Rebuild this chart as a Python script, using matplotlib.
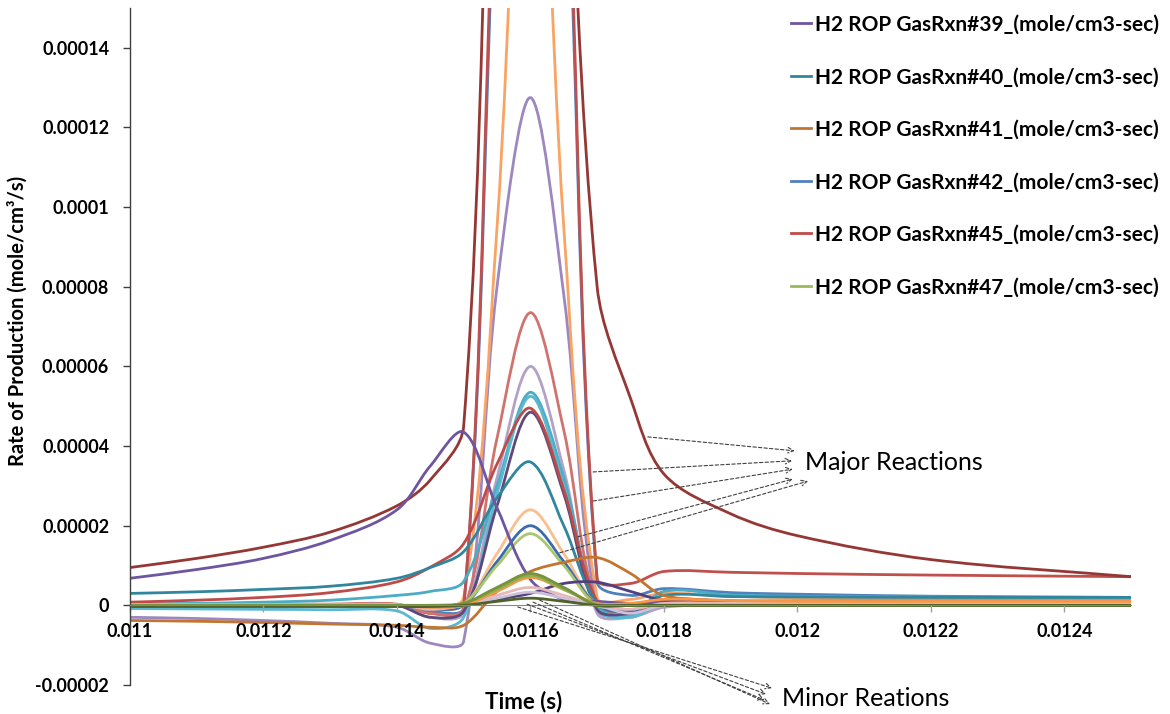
import numpy as np
import matplotlib.pyplot as plt
from matplotlib.path import Path
from matplotlib.patches import PathPatch
from matplotlib.lines import Line2D

plt.rcParams['font.family'] = ['Lato', 'DejaVu Sans']

# time grid of the exported data (s)
time = [0.0110, 0.0111, 0.0112, 0.0113, 0.0114, 0.01145, 0.0115, 0.01155,
        0.0116, 0.01165, 0.0117, 0.01175, 0.0118, 0.0119, 0.0120, 0.0122, 0.0125]

# H2 rate of production per reaction, in 1e-6 mole/cm3/s
rxn39 = [6.8, 9.0, 11.8, 16.3, 24.0, 35.0, 43.5, 24.5, 6.5, 1.5, 1.0, 0.5, 0.8, 0.5, 0.5, 0.4, 0.3]
rxn40 = [3.0, 3.4, 4.0, 4.8, 6.8, 9.5, 13.5, 27, 36, 20, 0.5, -1.5, 2.5, 2.2, 2.1, 2.0, 2.0]
rxn41 = [-3.8, -4.0, -4.3, -4.7, -5.0, -5.5, -5.0, 3.5, 8.5, 10.8, 12.0, 8.0, 2.5, 1.2, 1.0, 0.8, 0.7]
rxn42 = [0.0, 0.0, 0.0, 0.0, 0.0, -1.5, -0.5, 190, 300, 205, 6.0, 2.5, 4.2, 3.2, 2.8, 2.3, 2.0]
rxn45 = [0.8, 1.3, 2.0, 3.2, 5.9, 9.6, 15.5, 35.5, 49.5, 29, 1.0, -1.5, 0.5, 0.5, 0.5, 0.5, 0.5]
rxn47 = [0.0, 0.0, 0.0, 0.0, 0.0, -0.5, 0.5, 10, 18, 10, 0.0, 0.0, 0.0, 0.0, 0.0, 0.0, 0.0]

# remaining reactions (legend entries cut off in the original)
big_darkred = [9.5, 11.8, 14.6, 18.4, 25.0, 31.5, 45.0, 250, 350, 220, 80, 52, 33, 23, 17.5, 11.5, 7.2]
big_red = [0.3, 0.3, 0.3, 0.3, 0.3, -2.0, -1.0, 200, 320, 215, 6.8, 5.5, 8.5, 8.3, 8.0, 7.6, 7.2]
big_orange = [0.0, 0.0, 0.0, 0.0, 0.1, -0.5, 2.0, 95, 240, 95, 2.0, 1.5, 3.0, 2.3, 1.9, 1.6, 1.5]
lavender = [-3.0, -3.3, -3.8, -4.5, -5.5, -9.5, -9.0, 80, 127.5, 78, -1.0, -2.5, 0.0, 0.3, 0.3, 0.3, 0.3]
salmon = [0.2, 0.2, 0.2, 0.2, 0.2, -2.0, -1.0, 42, 73.5, 44, 0.0, -1.5, 0.3, 0.3, 0.3, 0.3, 0.3]
lilac = [0.0, 0.0, 0.0, 0.0, 0.0, -3.0, -2.0, 32, 60, 34, -2.0, -3.0, -0.5, 0.2, 0.2, 0.2, 0.2]
cyan = [0.3, 0.5, 0.8, 1.3, 2.5, 3.5, 6.0, 30, 53.5, 32, 0.0, -2.5, 3.5, 2.6, 2.3, 2.1, 2.0]
sky = [-0.8, -0.9, -1.0, -1.1, -1.4, -5.8, -3.0, 28, 52.5, 30, -1.0, -3.0, 0.5, 1.0, 1.2, 1.3, 1.4]
plum = [0.0, 0.0, 0.0, 0.0, 0.0, -3.0, -1.5, 25, 48.5, 28, -1.0, -2.0, 1.0, 0.8, 0.8, 0.7, 0.6]
peach = [0.0, 0.0, 0.0, 0.0, 0.0, -1.0, 0.0, 13, 24, 13, 0.0, -1.0, 1.0, 1.0, 1.0, 0.9, 0.9]
blue_small = [0.0, 0.0, 0.0, 0.0, 0.0, -1.0, 0.0, 11, 20, 11, 0.0, -1.5, 1.5, 1.0, 1.0, 0.9, 0.8]
green = [0.0, 0.0, 0.0, 0.0, 0.0, 0.0, 0.5, 4.5, 8.0, 4.5, 0.0, 0.0, 0.0, 0.0, 0.0, 0.0, 0.0]
green_light = [0.0, 0.0, 0.0, 0.0, 0.0, 0.0, 0.5, 4.0, 7.5, 4.0, 0.3, 0.0, 0.0, 0.0, 0.0, 0.0, 0.0]
orange = [0.0, 0.0, 0.0, 0.0, 0.0, -0.5, 0.0, 3.5, 7.0, 4.0, 0.5, 0.5, 1.5, 1.2, 1.0, 1.0, 1.0]
pink = [0.2, 0.2, 0.2, 0.2, 0.2, -1.0, 0.0, 2.5, 4.5, 2.5, 0.0, -1.0, 0.5, 0.5, 0.5, 0.5, 0.5]
pale_lilac = [0.0, 0.0, 0.0, 0.0, 0.0, -0.5, 0.0, 1.8, 3.3, 1.8, 0.0, -2.0, 0.0, 0.0, 0.0, 0.0, 0.0]
indigo = [0.0, 0.0, 0.0, 0.0, 0.0, 0.0, 0.0, 1.5, 3.0, 5.5, 5.8, 3.5, 1.3, 1.0, 0.9, 0.8, 0.8]
olive = [-0.3, -0.3, -0.3, -0.3, -0.3, -0.3, 0.0, 1.0, 1.8, 1.0, 0.0, 0.0, 0.0, 0.0, 0.0, 0.0, 0.0]

legend_labels = ['H2 ROP GasRxn#39_(mole/cm3-sec)', 'H2 ROP GasRxn#40_(mole/cm3-sec)',
                 'H2 ROP GasRxn#41_(mole/cm3-sec)', 'H2 ROP GasRxn#42_(mole/cm3-sec)',
                 'H2 ROP GasRxn#45_(mole/cm3-sec)', 'H2 ROP GasRxn#47_(mole/cm3-sec)']

yticks = [-0.00002, 0, 0.00002, 0.00004, 0.00006, 0.00008, 0.0001, 0.00012, 0.00014]
ytick_labels = ['-0.00002', '0', '0.00002', '0.00004', '0.00006', '0.00008', '0.0001', '0.00012', '0.00014']
xticks = [0.011, 0.0112, 0.0114, 0.0116, 0.0118, 0.012, 0.0122, 0.0124]
xtick_labels = ['0.011', '0.0112', '0.0114', '0.0116', '0.0118', '0.012', '0.0122', '0.0124']

# (series, colour) in drawing order
series = [
    (lavender, '#9C88BF'), (big_orange, '#F9A464'), (rxn42, '#4F81BD'),
    (big_red, '#C0504D'), (big_darkred, '#953735'), (salmon, '#D0736F'),
    (lilac, '#B3A2C7'), (cyan, '#4BACC6'), (sky, '#5AB8D0'), (plum, '#5F497A'),
    (rxn45, '#BE4B48'), (rxn40, '#31859C'), (peach, '#FABF8F'), (blue_small, '#3C6AAE'),
    (rxn47, '#A8C76E'), (rxn41, '#C27530'), (rxn39, '#6E55A0'), (indigo, '#504080'),
    (pink, '#E6B9B8'), (pale_lilac, '#CCC1DA'), (orange, '#F79646'),
    (green_light, '#8EB04F'), (green, '#77933C'), (olive, '#4F6228'),
]
legend_colors = ['#6E55A0', '#31859C', '#C27530', '#4F81BD', '#BE4B48', '#9BBB59']

XMIN, XMAX, YMIN, YMAX = 0.011, 0.0125, -0.00002, 0.00015
W, H = 1170, 714
fig = plt.figure(figsize=(W / 100, H / 100), dpi=100)
ax = fig.add_axes([130 / W, 1 - 685 / H, (1131 - 130) / W, (685 - 8) / H])
ax.set_xlim(XMIN, XMAX)
ax.set_ylim(YMIN, YMAX)
ax_w, ax_h = 1001.0, 677.0


def smooth_path(xs, ys):
    # Excel-style smoothed line: cubic bezier, tangents scaled by segment lengths
    sx = ax_w / (XMAX - XMIN)
    sy = ax_h / (YMAX - YMIN)
    P = np.column_stack([np.asarray(xs) * sx, np.asarray(ys) * sy])
    n = len(P)
    verts = [P[0]]
    codes = [Path.MOVETO]
    for i in range(n - 1):
        p0 = P[max(i - 1, 0)]
        p1, p2 = P[i], P[i + 1]
        p3 = P[min(i + 2, n - 1)]
        d01 = np.hypot(*(p1 - p0))
        d12 = np.hypot(*(p2 - p1))
        d23 = np.hypot(*(p3 - p2))
        k1 = 2 * d12 / (d01 + d12) if d01 + d12 > 0 else 0
        k2 = 2 * d12 / (d12 + d23) if d12 + d23 > 0 else 0
        c1 = p1 + (p2 - p0) * k1 / 6
        c2 = p2 - (p3 - p1) * k2 / 6
        verts += [c1, c2, p2]
        codes += [Path.CURVE4] * 3
    verts = np.array(verts) / [sx, sy]
    return Path(verts, codes)


t = np.array(time)
for vals, col in series:
    v = np.array(vals) * 1e-6
    ax.add_patch(PathPatch(smooth_path(t, v), fill=False, edgecolor=col, lw=2.0,
                           joinstyle='round', capstyle='round'))

# axes styling (Excel look: horizontal axis crosses at 0)
for s in ['top', 'right']:
    ax.spines[s].set_visible(False)
ax.spines['bottom'].set_position(('data', 0))
ax.spines['bottom'].set_color('#868686')
ax.spines['left'].set_color('#404040')
ax.spines['left'].set_linewidth(1.0)
ax.set_yticks(yticks)
ax.set_yticklabels(ytick_labels, fontsize=13, fontweight='bold')
ax.set_xticks(xticks)
ax.set_xticklabels(xtick_labels, fontsize=13, fontweight='bold')
ax.tick_params(axis='y', direction='out', length=5, width=1, color='#404040', pad=10)
ax.tick_params(axis='x', direction='out', length=5, width=1, color='#A0A0A0', pad=8)

fig.text(18 / W, 1 - 321 / H, 'Rate of Production (mole/cm³/s)', rotation=90,
         ha='center', va='center', fontsize=14.5, fontweight='bold')
fig.text(524 / W, 1 - 702 / H, 'Time (s)', ha='center', va='center',
         fontsize=16, fontweight='bold')

handles = [Line2D([], [], color=c, lw=2) for c in legend_colors]
fig.legend(handles, legend_labels, loc='upper left', bbox_to_anchor=(772 / W, 1 + 4 / H),
           frameon=False, prop={'size': 15, 'weight': 'bold'}, handlelength=0.95,
           handletextpad=0.2, labelspacing=1.56)

# dashed call-outs
arrow_kw = dict(arrowstyle='->', linestyle=(0, (3, 2)), color='#404040', lw=0.8,
                shrinkA=0, shrinkB=0)
major_from = [(0.011776, 4.23e-5), (0.011694, 3.35e-5), (0.011694, 2.62e-5),
              (0.011671, 1.72e-5), (0.011644, 1.32e-5)]
major_to = [(0.011996, 3.88e-5), (0.011992, 3.63e-5), (0.011993, 3.42e-5),
            (0.011993, 3.17e-5), (0.012016, 3.12e-5)]
for a, b in zip(major_from, major_to):
    ax.annotate('', xy=b, xytext=a, arrowprops=arrow_kw, annotation_clip=False)
minor_from = [(0.011581, -0.4e-6), (0.011595, 0.3e-6), (0.011604, 0.8e-6), (0.011614, 1.3e-6)]
minor_to = [(0.011962, -2.08e-5), (0.011953, -2.23e-5), (0.011951, -2.38e-5), (0.011959, -2.48e-5)]
for a, b in zip(minor_from, minor_to):
    ax.annotate('', xy=b, xytext=a, arrowprops=arrow_kw, annotation_clip=False)

ax.text(0.012011, 3.575e-5, 'Major Reactions', fontsize=18, ha='left', va='center')
ax.text(0.011977, -2.33e-5, 'Minor Reations', fontsize=18, ha='left', va='center',
        clip_on=False)

fig.savefig('out.png', dpi=100, facecolor='white')
